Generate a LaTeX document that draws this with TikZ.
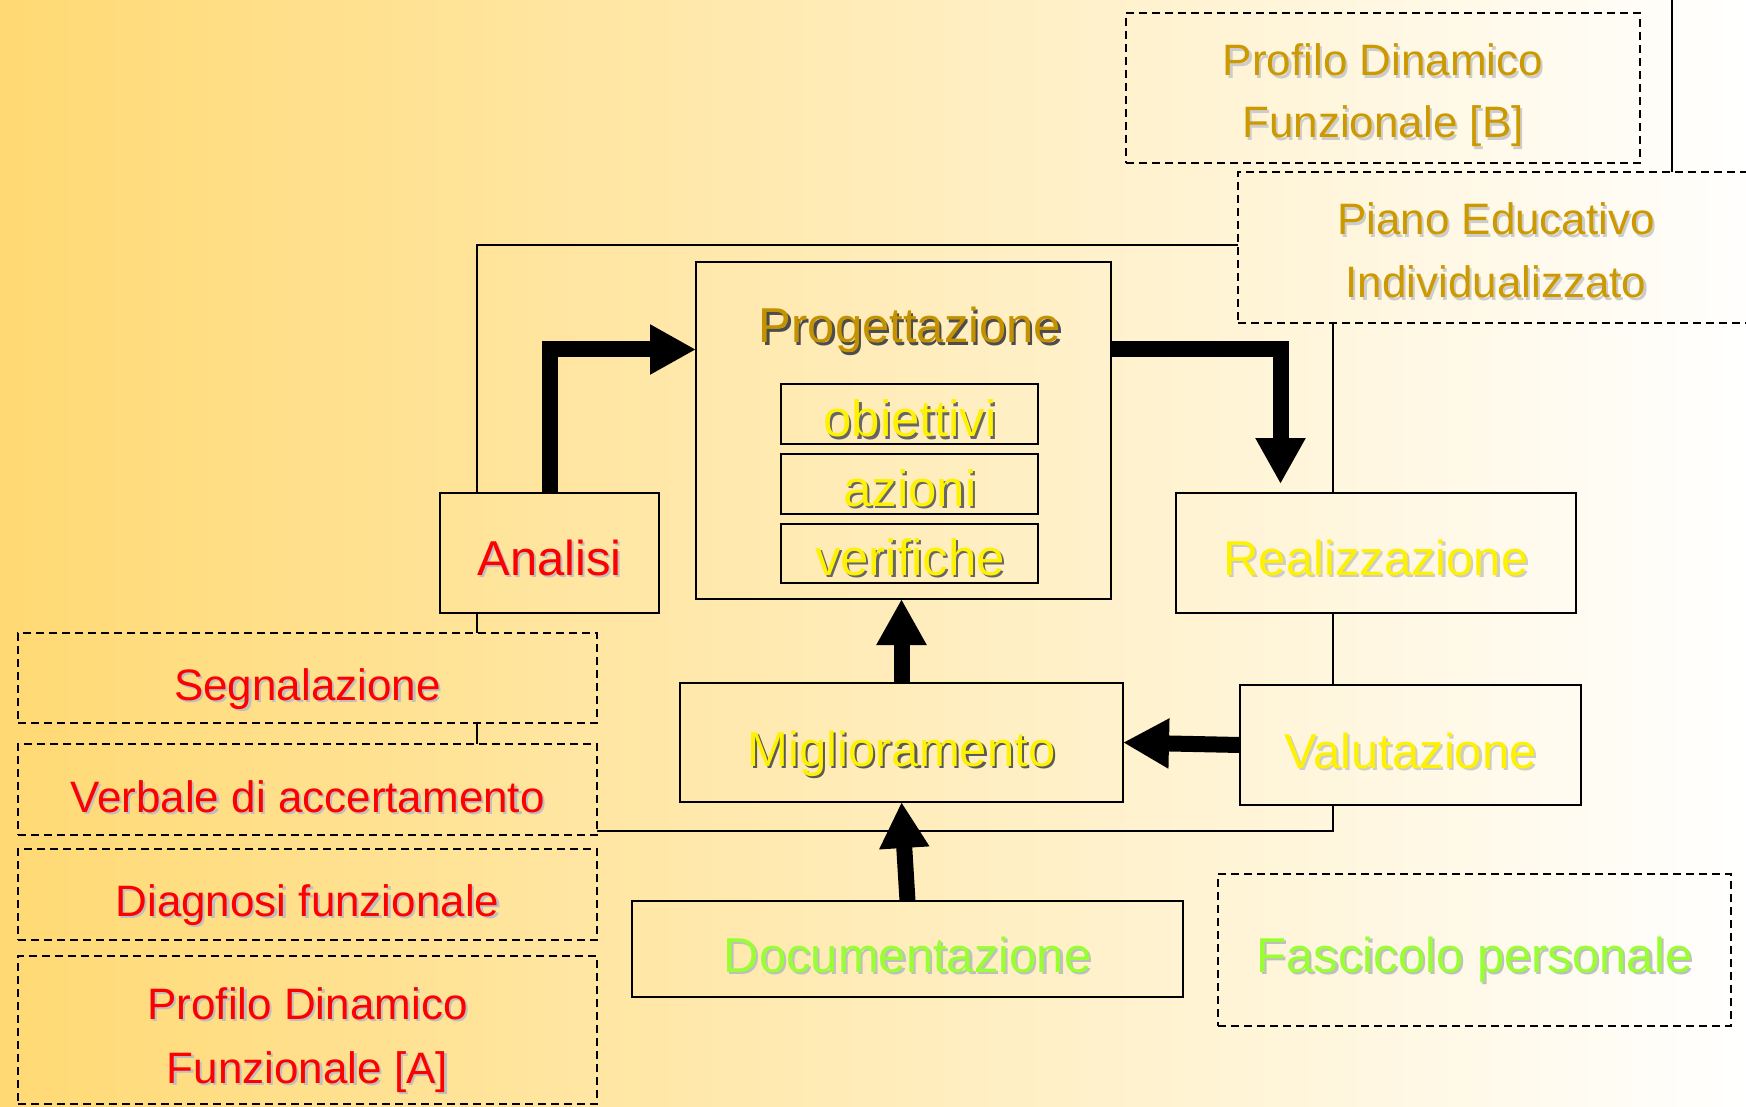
\documentclass[tikz,border=0pt]{standalone}
\usepackage{fontspec}
\setmainfont{Liberation Sans}
\usetikzlibrary{arrows.meta,fit}
\definecolor{bgL}{RGB}{255,217,115}
\definecolor{gold}{RGB}{204,153,0}
\definecolor{progc}{RGB}{196,146,0}
\definecolor{grn}{RGB}{153,255,51}
\newcommand\shd[3]{\leavevmode\rlap{\kern1.1pt\raisebox{-1.1pt}{\textcolor{#2}{#3}}}\textcolor{#1}{#3}}
\begin{document}
\begin{tikzpicture}[x=0.5pt,y=-0.5pt,
 bx/.style={draw=black, line width=1.2pt, inner sep=0pt, outer sep=0pt,
   path picture={\shade[left color=bgL,right color=white] (cNW) rectangle (cSE);}},
 note/.style={bx, dash pattern=on 4pt off 2.5pt, line width=1pt},
 frame/.style={draw=black, line width=1pt},
 fat/.style={draw=black, line width=8pt, -{Triangle[length=23pt,width=23.5pt]}},
 big/.style={font=\fontsize{24.5}{29}\selectfont, anchor=base, inner sep=0pt},
 inner/.style={font=\fontsize{25.5}{29}\selectfont, anchor=base, inner sep=0pt},
 small/.style={font=\fontsize{22}{26}\selectfont, anchor=base, inner sep=0pt},
]
\coordinate (cNW) at (0,0);
\coordinate (cSE) at (1746,1107);
\useasboundingbox (cNW) rectangle (cSE);
\shade[left color=bgL,right color=white] (cNW) rectangle (cSE);

% frame behind the boxes
\coordinate (fNW) at (477,245);
\coordinate (fSE) at (1333,831);
\draw[frame] (fNW) rectangle (fSE);
\coordinate (vtop) at (1672,0);

% boxes
\node[note, fit={(1126,13) (1640,163)}] (pdfb) {};
\node[note, fit={(1238,172) (1775,323)}] (pei) {};
\draw[frame] (vtop) -- (vtop |- pei.north);
\node[bx, fit={(696,262) (1111,599)}] (prog) {};
\node[bx, fit={(781,384) (1038,444)}] (obi) {};
\node[bx, fit={(781,454) (1038,514)}] (azi) {};
\node[bx, fit={(781,524) (1038,583)}] (ver) {};
\node[bx, fit={(440,493) (659,613)}] (ana) {};
\node[bx, fit={(1176,493) (1576,613)}] (real) {};
\node[bx, fit={(1240,685) (1581,805)}] (val) {};
\node[bx, fit={(680,683) (1123,802)}] (mig) {};
\node[bx, fit={(632,901) (1183,997)}] (doc) {};
\node[note, fit={(1218,874) (1731,1026)}] (fasc) {};
\node[note, fit={(18,633) (597,723)}] (seg) {};
\node[note, fit={(18,744) (597,835)}] (verb) {};
\node[note, fit={(18,849) (597,940)}] (diag) {};
\node[note, fit={(18,956) (597,1104)}] (pdfa) {};

% arrows
\coordinate (a1) at (549.5,349.5);
\draw[fat] (ana.north) -- (a1) -- (a1 -| prog.west);
\coordinate (p1) at (1280.5,349.5);
\draw[fat, shorten >=4.5pt] (p1 -| prog.east) -- (p1) -- (p1 |- real.north);
\draw[fat] (mig.north) -- (mig.north |- prog.south);
\draw[fat] (doc.north) -- (mig.south);
\draw[fat] (val.west) -- (mig.east);

% texts
\node[big] (tprog) at (910,343) {\shd{progc}{black!70}{Progettazione}};
\node[inner] (tobi) at (910,437) {\shd{yellow}{black!60}{obiettivi}};
\node[inner] (tazi) at (910,506) {\shd{yellow}{black!60}{azioni}};
\node[inner] (tver) at (910,575) {\shd{yellow}{black!60}{verifiche}};
\node[big] (tana) at (549.5,575) {\shd{red}{black!25}{Analisi}};
\node[big] (treal) at (1376,575) {\shd{yellow}{black!20}{Realizzazione}};
\node[big] (tmig) at (901.5,766) {\shd{yellow}{black!65}{Miglioramento}};
\node[big] (tval) at (1410.5,768) {\shd{yellow}{black!20}{Valutazione}};
\node[big] (tdoc) at (907.5,972) {\shd{grn}{black!25}{Documentazione}};
\node[big] (tfasc) at (1474.5,972) {\shd{grn}{black!25}{Fascicolo personale}};
\node[small] (tpdfb1) at (1383,76) {\shd{gold}{black!20}{Profilo Dinamico}};
\node[small] (tpdfb2) at (1383,138) {\shd{gold}{black!20}{Funzionale [B]}};
\node[small] (tpei1) at (1496,235) {\shd{gold}{black!20}{Piano Educativo}};
\node[small] (tpei2) at (1496,298) {\shd{gold}{black!20}{Individualizzato}};
\node[small] (tseg) at (307.5,700) {\shd{red}{black!25}{Segnalazione}};
\node[small] (tverb) at (307.5,812) {\shd{red}{black!25}{Verbale di accertamento}};
\node[small] (tdiag) at (307.5,916) {\shd{red}{black!25}{Diagnosi funzionale}};
\node[small] (tpdfa1) at (307.5,1019) {\shd{red}{black!25}{Profilo Dinamico}};
\node[small] (tpdfa2) at (307.5,1083) {\shd{red}{black!25}{Funzionale [A]}};
\end{tikzpicture}
\end{document}
